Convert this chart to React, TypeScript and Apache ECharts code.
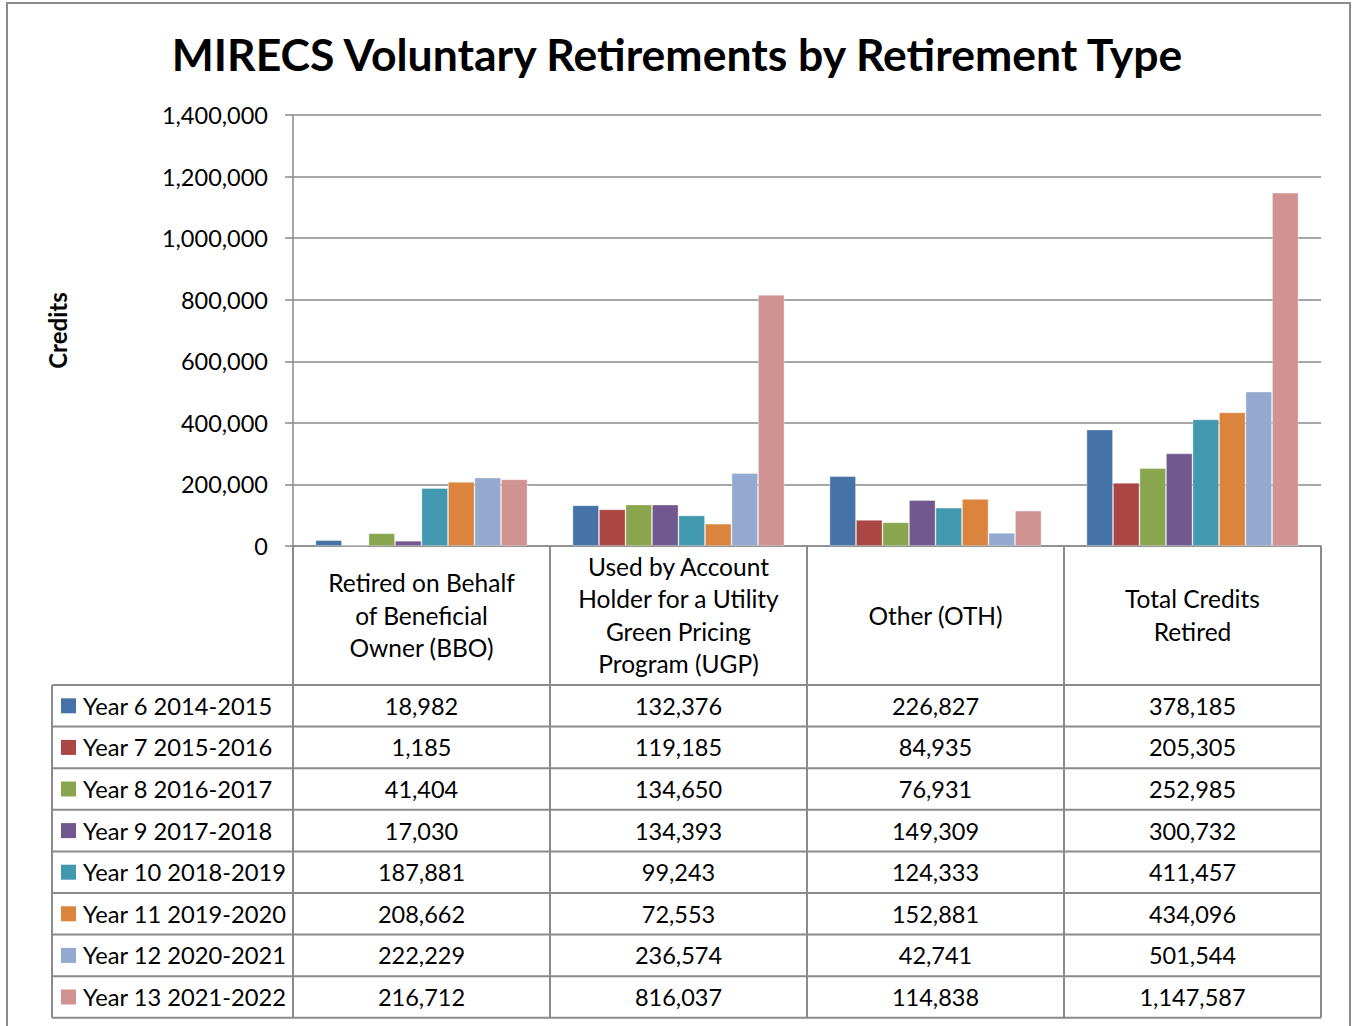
import React, { useEffect, useRef } from "react";
import * as echarts from "echarts";

const TITLE = "MIRECS Voluntary Retirements by Retirement Type";
const Y_NAME = "Credits";

const categories = [
  "Retired on Behalf\nof Beneficial\nOwner (BBO)",
  "Used by Account\nHolder for a Utility\nGreen Pricing\nProgram (UGP)",
  "Other (OTH)",
  "Total Credits\nRetired",
];

const seriesNames = [
  "Year 6 2014-2015",
  "Year 7 2015-2016",
  "Year 8 2016-2017",
  "Year 9 2017-2018",
  "Year 10 2018-2019",
  "Year 11 2019-2020",
  "Year 12 2020-2021",
  "Year 13 2021-2022",
];

const colors = ["#4572A7", "#AA4643", "#89A54E", "#71588F", "#4198AF", "#DB843D", "#93A9CF", "#D19392"];

const year6 = [18982, 132376, 226827, 378185];
const year7 = [1185, 119185, 84935, 205305];
const year8 = [41404, 134650, 76931, 252985];
const year9 = [17030, 134393, 149309, 300732];
const year10 = [187881, 99243, 124333, 411457];
const year11 = [208662, 72553, 152881, 434096];
const year12 = [222229, 236574, 42741, 501544];
const year13 = [216712, 816037, 114838, 1147587];

const seriesValues = [year6, year7, year8, year9, year10, year11, year12, year13];

const Y_MIN = 0;
const Y_MAX = 1400000;
const Y_INTERVAL = 200000;

const FONT = "Lato";
const LINE = "#8a8a8a";

const fmt = (v: number) => v.toLocaleString("en-US");

export default function App() {
  const ref = useRef<HTMLDivElement>(null);

  useEffect(() => {
    if (!ref.current) return;
    const chart = echarts.init(ref.current, null, { renderer: "svg" });
    chart.setOption({
      animation: false,
      backgroundColor: "#ffffff",
      textStyle: { fontFamily: FONT, color: "#000" },
      title: {
        text: TITLE,
        left: "center",
        top: 26,
        textStyle: { fontFamily: FONT, fontSize: 44.5, fontWeight: "bold", color: "#000" },
      },
      grid: { left: 293, right: 33, top: 115, bottom: 480, containLabel: false },
      xAxis: {
        type: "category",
        data: categories,
        axisLine: { show: true, lineStyle: { color: LINE, width: 1.5 } },
        axisTick: { show: false },
        axisLabel: {
          show: true,
          interval: 0,
          margin: 69,
          verticalAlign: "middle",
          align: "center",
          fontSize: 24.5,
          lineHeight: 32.5,
          color: "#000",
          fontFamily: FONT,
        },
      },
      yAxis: {
        type: "value",
        min: Y_MIN,
        max: Y_MAX,
        interval: Y_INTERVAL,
        name: Y_NAME,
        nameLocation: "middle",
        nameGap: 224,
        nameTextStyle: { fontFamily: FONT, fontSize: 24, fontWeight: "bold", color: "#000" },
        axisLine: { show: true, lineStyle: { color: LINE, width: 1.5 } },
        axisTick: { show: true, length: 8, inside: false, lineStyle: { color: LINE, width: 1.5 } },
        axisLabel: {
          margin: 25,
          fontSize: 23.5,
          color: "#000",
          fontFamily: FONT,
          formatter: (v: number) => fmt(v),
        },
        splitLine: { show: true, lineStyle: { color: LINE, width: 1.5 } },
      },
      series: seriesNames.map((name, i) => ({
        name,
        type: "bar",
        data: seriesValues[i],
        barGap: "0%",
        barCategoryGap: "17.5%",
        itemStyle: { color: colors[i], borderColor: "rgba(255,255,255,0.45)", borderWidth: 0.8 },
      })),
    });

    // Build the data table from the axis geometry
    const xs = categories.map((_, i) => chart.convertToPixel({ xAxisIndex: 0 }, i) as number);
    const colW = xs[1] - xs[0];
    const left = xs[0] - colW / 2;
    const bounds = [0, 1, 2, 3, 4].map((k) => left + k * colW);
    const y0 = chart.convertToPixel({ yAxisIndex: 0 }, 0) as number;
    const headerBottom = y0 + 139;
    const rowH = 41.6;
    const tableBottom = headerBottom + seriesNames.length * rowH;
    const tableLeft = 52;
    const right = bounds[4];

    const g: any[] = [];
    const line = (x1: number, y1: number, x2: number, y2: number) =>
      g.push({ type: "line", silent: true, shape: { x1, y1, x2, y2 }, style: { stroke: LINE, lineWidth: 2 } });

    // vertical lines of the table
    bounds.forEach((bx) => line(bx, y0, bx, tableBottom));
    line(tableLeft, headerBottom, tableLeft, tableBottom);
    // horizontal lines
    for (let r = 0; r <= seriesNames.length; r++) {
      const yy = headerBottom + r * rowH;
      line(tableLeft, yy, right, yy);
    }

    seriesNames.forEach((name, r) => {
      const cy = headerBottom + (r + 0.5) * rowH;
      g.push({
        type: "rect",
        silent: true,
        shape: { x: 61, y: cy - 7.5, width: 15, height: 15 },
        style: { fill: colors[r] },
      });
      g.push({
        type: "text",
        silent: true,
        style: {
          text: name,
          x: 83,
          y: cy,
          fill: "#000",
          fontSize: 23.7,
          fontFamily: FONT,
          align: "left",
          verticalAlign: "middle",
        },
      });
      seriesValues[r].forEach((v, c) => {
        g.push({
          type: "text",
          silent: true,
          style: {
            text: fmt(v),
            x: xs[c],
            y: cy,
            fill: "#000",
            fontSize: 23.5,
            fontFamily: FONT,
            align: "center",
            verticalAlign: "middle",
          },
        });
      });
    });

    // outer chart border
    g.push({
      type: "rect",
      silent: true,
      shape: { x: 7, y: 3, width: 1343, height: 1040 },
      style: { fill: "none", stroke: "#8a8a8a", lineWidth: 2 },
    });

    chart.setOption({ graphic: g });

    return () => chart.dispose();
  }, []);

  return (
    <div
      ref={ref}
      style={{ position: "fixed", left: 0, top: 0, width: 1354, height: 1026, background: "#fff" }}
    />
  );
}
